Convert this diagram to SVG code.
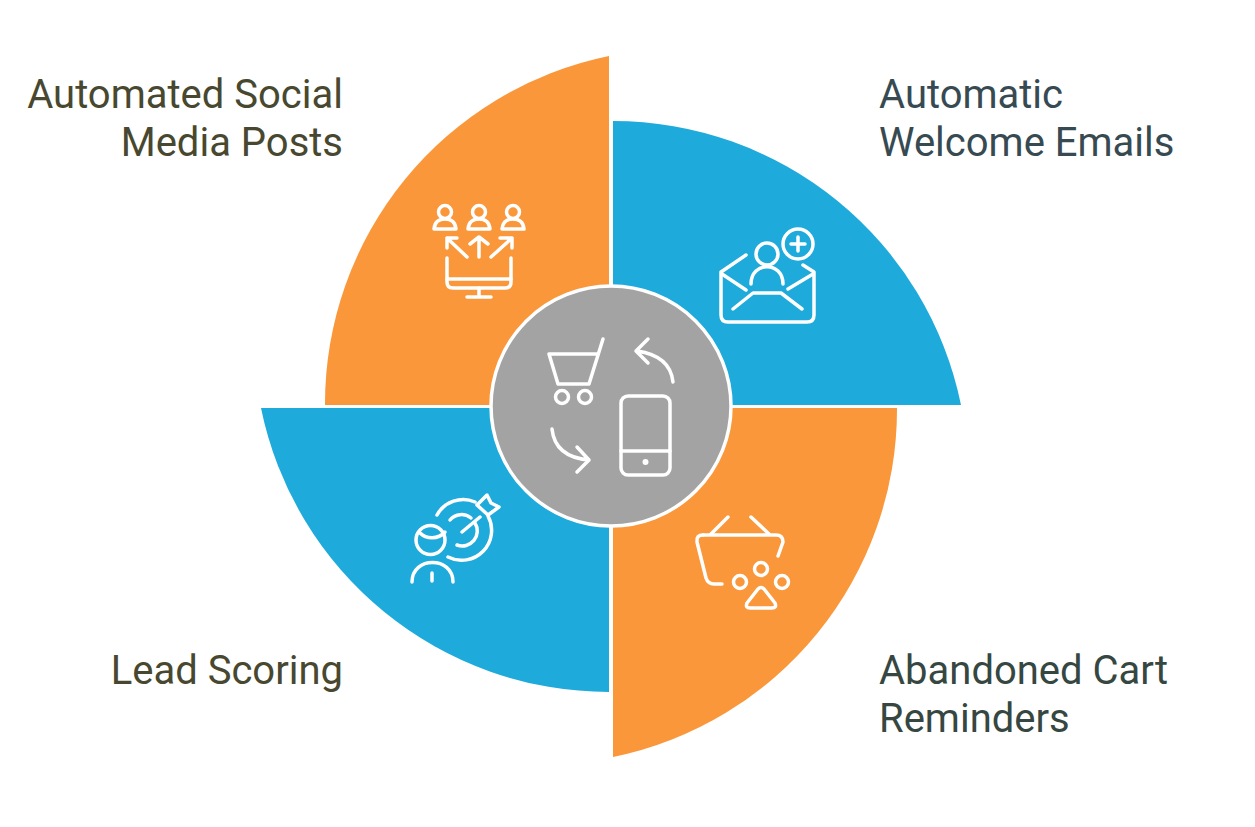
<svg xmlns="http://www.w3.org/2000/svg" width="1255" height="827" viewBox="0 0 1255 827">
  <style>
    .orange { fill: #fa973a; }
    .blue { fill: #1eaadb; }
    .icon { fill: none; stroke: #fff; stroke-width: 3.5; stroke-linecap: round; stroke-linejoin: round; }
    .label { font-family: Roboto, "Liberation Sans", sans-serif; font-size: 40px; }
    .olive { fill: #484830; text-anchor: end; }
    .slate { fill: #374a52; }
    .green { fill: #364742; }
  </style>
  <rect width="1255" height="827" fill="#fff"/>

  <g id="node-social">
    <path class="orange" d="M609 56A355 355 0 0 0 325 405H609Z"/>
    <g class="icon">
      <circle cx="445" cy="212" r="6.5"/>
      <path d="M434 229Q435 219 445 219T456 229Z"/>
      <circle cx="479" cy="212" r="6.5"/>
      <path d="M468 229Q469 219 479 219T490 229Z"/>
      <circle cx="513" cy="212" r="6.5"/>
      <path d="M502 229Q503 219 513 219T524 229Z"/>
      <path d="M467 257L447 238M447 248V238H457"/>
      <path d="M479 257V237M470 244L479 237L488 244"/>
      <path d="M491 257L512 238M500 238H512V248"/>
      <path d="M447 258V282Q447 288 453 288H505Q511 288 511 282V258"/>
      <path d="M447 279H511M479 288V297M467 297H491"/>
    </g>
    <text class="label olive"><tspan x="343" y="108">Automated Social</tspan><tspan x="343" y="156">Media Posts</tspan></text>
  </g>

  <g id="node-welcome">
    <path class="blue" d="M613 121A355 355 0 0 1 961 405H613Z"/>
    <g class="icon">
      <path d="M746 255L721 272V315Q721 322 728 322H807Q814 322 814 315V272L803 265"/>
      <path d="M722 274L746 290M813 274L788 289"/>
      <path d="M733 309L753 293H781L802 309"/>
      <circle cx="767" cy="254" r="11"/>
      <path d="M751 284C751 261 783 261 783 284"/>
      <circle cx="798" cy="244" r="15"/>
      <path d="M798 237V251M791 244H805"/>
    </g>
    <text class="label slate"><tspan x="879" y="108">Automatic</tspan><tspan x="879" y="156">Welcome Emails</tspan></text>
  </g>

  <g id="node-cart">
    <path class="orange" d="M897 408A355 355 0 0 1 613 757V408Z"/>
    <g class="icon">
      <path d="M711 534L728 517M769 534L751 517"/>
      <path d="M703 535H776Q783 535 783 542L778 556"/>
      <path d="M703 535Q696 535 697 542L706 578Q708 584 714 584H722"/>
      <circle cx="761" cy="569" r="6.5"/>
      <circle cx="740" cy="582" r="6.5"/>
      <circle cx="782" cy="582" r="6.5"/>
      <path d="M758 589Q761 586 764 589L775 603Q777 608 772 608H750Q745 608 747 603Z"/>
    </g>
    <text class="label green"><tspan x="879" y="684">Abandoned Cart</tspan><tspan x="879" y="732">Reminders</tspan></text>
  </g>

  <g id="node-lead">
    <path class="blue" d="M261 408A355 355 0 0 0 609 692V408Z"/>
    <g class="icon">
      <path d="M437 515A30 30 0 0 1 475 502M488 516A30 30 0 0 1 448 557"/>
      <path d="M450 520A15 15 0 0 1 471 518M475 523A15 15 0 0 1 457 545"/>
      <path d="M462 532L480 517M477 505L487 495L491 503L499 507L488 515Z"/>
      <circle cx="430.500" cy="540" r="14.500"/>
      <path d="M420 533C426 539 438 540 445 532"/>
      <path d="M412 582C412 556 453 556 453 582M432 573V581"/>
    </g>
    <text class="label olive"><tspan x="343" y="684">Lead Scoring</tspan></text>
  </g>

  <g id="node-hub">
    <circle cx="611" cy="406" r="120" fill="#a3a3a3" stroke="#fff" stroke-width="3.5"/>
    <g class="icon">
      <path d="M603 339L589 384H558L549 354H597"/>
      <circle cx="562" cy="397" r="6.500"/>
      <circle cx="585" cy="397" r="6.500"/>
      <path d="M673 382C671 363 658 354 637 351M648 339L636 351L648 363"/>
      <path d="M552 429C554 448 566 458 589 460M577 447L589 460L577 472"/>
      <rect x="621" y="396" width="49" height="79" rx="7"/>
      <path d="M621 451H670"/>
    </g>
    <circle cx="645.500" cy="462" r="3" fill="#fff"/>
  </g>
</svg>
